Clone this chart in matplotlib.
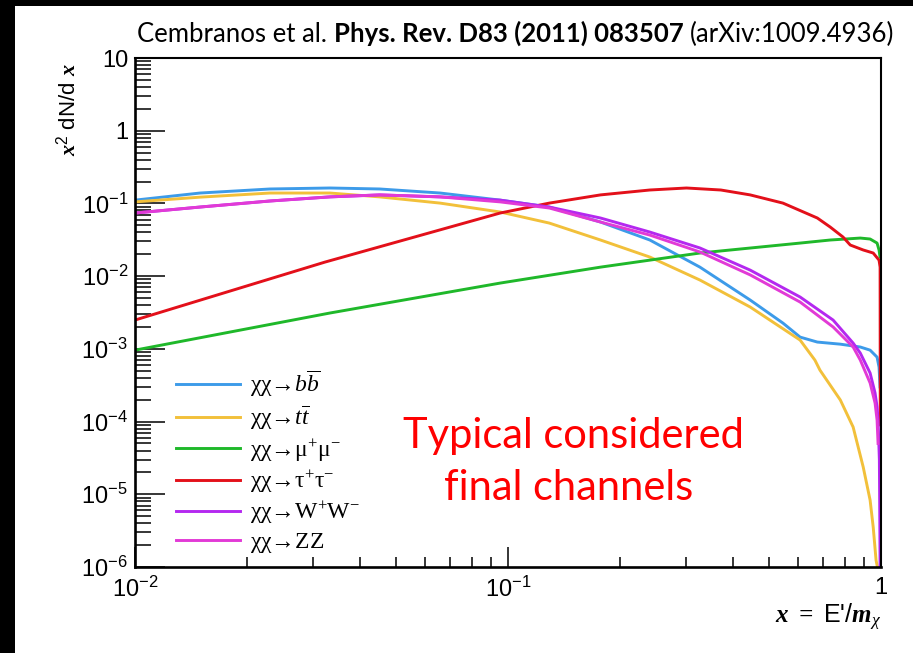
import numpy as np
import matplotlib
matplotlib.use('Agg')
import matplotlib.pyplot as plt
from matplotlib.patches import Rectangle
from matplotlib.ticker import FixedLocator, LogLocator, NullFormatter
from matplotlib.font_manager import FontProperties

plt.rcParams['mathtext.fontset'] = 'custom'
plt.rcParams['mathtext.rm'] = 'Liberation Serif'
plt.rcParams['mathtext.it'] = 'Liberation Serif:italic'
plt.rcParams['mathtext.bf'] = 'Liberation Serif:bold:italic'
plt.rcParams['mathtext.sf'] = 'Liberation Sans'

# x^2 dN/dx spectra per annihilation channel
x_bb = [0.01, 0.01494, 0.0230, 0.0333, 0.0453, 0.0658, 0.0953, 0.129, 0.177, 0.240,
        0.327, 0.446, 0.546, 0.607, 0.675, 0.778, 0.880, 0.935, 0.976, 0.988, 0.994]
y_bb = [0.111, 0.139, 0.158, 0.163, 0.158, 0.139, 0.111, 0.0892, 0.0555, 0.0314,
        0.0133, 0.00469, 0.00226, 0.00145, 0.00124, 0.00116, 0.00106, 0.00096, 0.00077, 0.00056, 0.0003]

x_tt = [0.01, 0.01494, 0.0230, 0.0333, 0.0453, 0.0658, 0.0953, 0.129, 0.177, 0.240,
        0.327, 0.446, 0.607, 0.665, 0.686, 0.778, 0.842, 0.896, 0.935, 0.953, 0.970, 0.978]
y_tt = [0.105, 0.122, 0.139, 0.139, 0.123, 0.101, 0.0762, 0.0537, 0.0314, 0.0183,
        0.00884, 0.00376, 0.00132, 0.00070, 0.00051, 0.000198, 8.4e-5, 2.37e-5, 8.3e-6, 3.54e-6, 1.24e-6, 1e-6]

x_mumu = [0.01, 0.0333, 0.0953, 0.177, 0.327, 0.607, 0.731, 0.880, 0.935, 0.976, 0.988, 0.994]
y_mumu = [0.00096, 0.00311, 0.00803, 0.0133, 0.0208, 0.0285, 0.0314, 0.0334, 0.0324, 0.0285, 0.0229, 0.0183]

x_tautau = [0.01, 0.0323, 0.0953, 0.129, 0.177, 0.240, 0.301, 0.372, 0.446, 0.546,
            0.675, 0.731, 0.791, 0.827, 0.896, 0.953, 0.988, 0.9945, 0.9955]
y_tautau = [0.00249, 0.0156, 0.0738, 0.101, 0.131, 0.153, 0.163, 0.153, 0.131, 0.101,
            0.063, 0.0473, 0.0345, 0.0268, 0.0229, 0.0208, 0.0166, 0.0133, 9e-5]

x_ww = [0.01, 0.01494, 0.0230, 0.0333, 0.0453, 0.0658, 0.0953, 0.129, 0.177, 0.240,
        0.327, 0.446, 0.607, 0.744, 0.842, 0.880, 0.935, 0.964, 0.976, 0.982, 0.990, 0.9945]
y_ww = [0.0738, 0.0892, 0.108, 0.123, 0.131, 0.123, 0.111, 0.0892, 0.0630, 0.0404,
        0.0244, 0.0121, 0.00516, 0.00249, 0.0012, 0.000875, 0.000465, 0.000247, 0.00016, 0.000105, 3e-5, 1e-6]

x_zz = [0.01, 0.01494, 0.0230, 0.0333, 0.0453, 0.0658, 0.0953, 0.129, 0.177, 0.240,
        0.327, 0.446, 0.607, 0.744, 0.842, 0.880, 0.935, 0.964, 0.976, 0.982]
y_zz = [0.0738, 0.0892, 0.108, 0.123, 0.131, 0.123, 0.105, 0.0865, 0.0555, 0.0367,
        0.0215, 0.0104, 0.0044, 0.0020, 0.00106, 0.000701, 0.000339, 0.00018, 0.000105, 5e-5]

channels = [
    (x_bb, y_bb, '#3d9be9', r'χχ→$b\overline{b}$'),
    (x_tt, y_tt, '#f2c03a', r'χχ→$t\overline{t}$'),
    (x_mumu, y_mumu, '#1fb82a', r'χχ→$\mathrm{μ^{+}μ^{-}}$'),
    (x_tautau, y_tautau, '#e3101a', r'χχ→$\mathrm{τ^{+}τ^{-}}$'),
    (x_ww, y_ww, '#b428f0', r'χχ→$\mathrm{W^{+}W^{-}}$'),
    (x_zz, y_zz, '#e23ad6', r'χχ→$\mathrm{ZZ}$'),
]

y_major = [1e1, 1e0, 1e-1, 1e-2, 1e-3, 1e-4, 1e-5, 1e-6]
y_labels = ['10', '1', r'$\mathregular{10^{-1}}$', r'$\mathregular{10^{-2}}$', r'$\mathregular{10^{-3}}$',
            r'$\mathregular{10^{-4}}$', r'$\mathregular{10^{-5}}$', r'$\mathregular{10^{-6}}$']
x_major = [1e-2, 1e-1, 1e0]
x_labels = [r'$\mathregular{10^{-2}}$', r'$\mathregular{10^{-1}}$', '1']

W, H = 913, 653
fig = plt.figure(figsize=(W / 100, H / 100), dpi=100, facecolor='black')
fig.patches.append(Rectangle((15 / W, 0), 1, (H - 6) / H, transform=fig.transFigure,
                             facecolor='white', edgecolor='none', zorder=-10))

ax = fig.add_axes([135 / W, 1 - 567 / H, (881 - 135) / W, (567 - 58) / H])
for xs, ys, color, label in channels:
    ax.plot(xs, ys, color=color, lw=2.1, label=label)

ax.set_xscale('log')
ax.set_yscale('log')
ax.set_xlim(1e-2, 1)
ax.set_ylim(1e-6, 10)

ax.yaxis.set_major_locator(FixedLocator(y_major))
ax.set_yticklabels(y_labels)
ax.yaxis.set_minor_locator(LogLocator(base=10, subs=np.arange(2, 10), numticks=20))
ax.yaxis.set_minor_formatter(NullFormatter())
ax.xaxis.set_major_locator(FixedLocator(x_major))
ax.set_xticklabels(x_labels)
ax.xaxis.set_minor_locator(LogLocator(base=10, subs=np.arange(2, 10), numticks=20))
ax.xaxis.set_minor_formatter(NullFormatter())

ax.tick_params(axis='y', which='major', direction='in', length=21.5, width=1.1,
               labelsize=17, pad=5, right=False)
ax.tick_params(axis='y', which='minor', direction='in', length=11.5, width=1.1, right=False)
ax.tick_params(axis='x', which='major', direction='in', length=14.5, width=1.1,
               labelsize=17, pad=7, top=False)
ax.tick_params(axis='x', which='minor', direction='in', length=7.2, width=1.1, top=False)
for lab in ax.get_xticklabels() + ax.get_yticklabels():
    lab.set_fontfamily('Liberation Sans')

for side in ['left', 'bottom']:
    ax.spines[side].set_linewidth(1.9)
for side in ['top', 'right']:
    ax.spines[side].set_linewidth(1.5)

leg = ax.legend(loc='upper left', bbox_to_anchor=(176 / W, 1 - 368 / H),
                bbox_transform=fig.transFigure, frameon=False, borderpad=0,
                borderaxespad=0, handlelength=2.7, handletextpad=0.45,
                labelspacing=0.2,
                prop=FontProperties(family=['Liberation Serif', 'DejaVu Serif'], size=17))

fig.text(68 / W, 1 - 110 / H, r'$\mathbf{x}^{\mathsf{2}}$ dN/d $\mathbf{x}$', rotation=90,
         ha='center', va='center', fontsize=16, family='Liberation Sans')
fig.text(881 / W, 1 - 617 / H, r"$\mathbf{x}$ $\mathbf{=}$ E'/$\mathbf{m}_{\mathit{χ}}$",
         ha='right', va='center', fontsize=18, family='Liberation Sans')

# reference line above the frame, regular / bold / regular pieces
t1 = fig.text(137 / W, 1 - 42 / H, 'Cembranos et al. ', fontsize=18.5, family='Lato',
              va='baseline')
t2 = fig.text(0, 0, 'Phys. Rev. D83 (2011) 083507 ', fontsize=18.5, family='Lato',
              fontweight='bold', va='baseline')
t3 = fig.text(0, 0, '(arXiv:1009.4936)', fontsize=18.5, family='Lato', va='baseline')
fig.canvas.draw()
r = fig.canvas.get_renderer()
x_pos = t1.get_window_extent(r).x1
t2.set_position((x_pos / W, 1 - 42 / H))
fig.canvas.draw()
x_pos = t2.get_window_extent(r).x1
t3.set_position((x_pos / W, 1 - 42 / H))

fig.text(573 / W, 1 - 448 / H, 'Typical considered', color='#ff0000', fontsize=30,
         family='Lato', ha='center', va='baseline')
fig.text(569 / W, 1 - 500 / H, 'final channels', color='#ff0000', fontsize=30,
         family='Lato', ha='center', va='baseline')

fig.savefig('out.png', dpi=100, facecolor=fig.get_facecolor())
